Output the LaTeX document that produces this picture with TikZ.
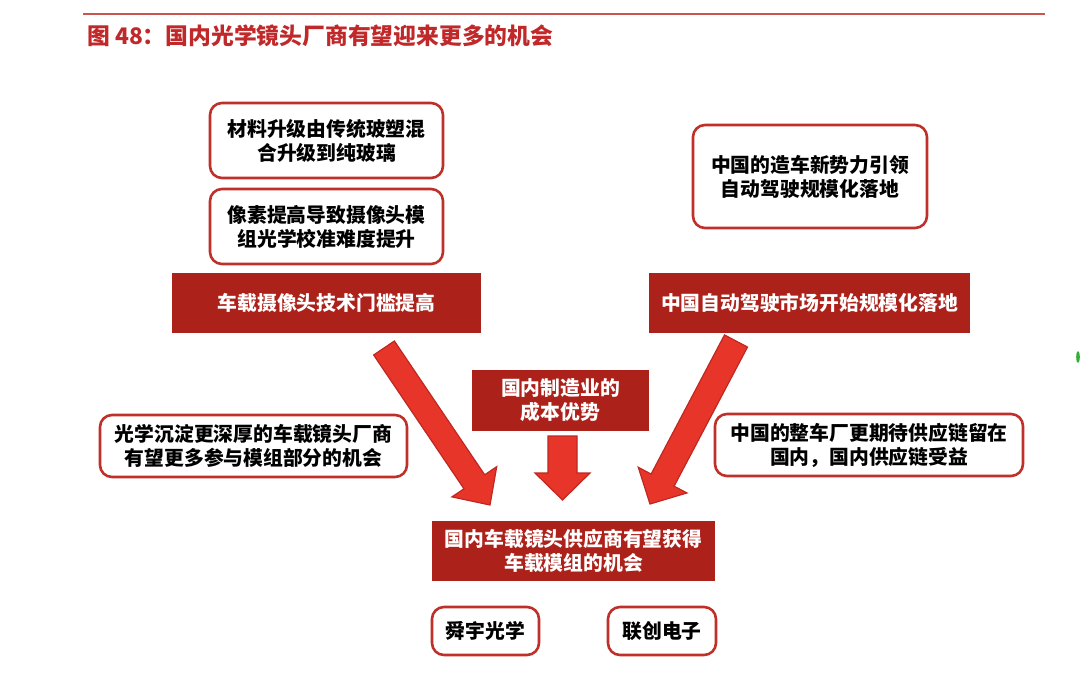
\documentclass[tikz,border=0pt]{standalone}
\usepackage{fontspec}
\newfontfamily\cjk{Noto Sans CJK SC}
\usetikzlibrary{calc}
\definecolor{titlered}{HTML}{C0282A}
\definecolor{linered}{HTML}{C9554E}
\definecolor{boxred}{HTML}{C0302A}
\definecolor{darkred}{HTML}{AD211B}
\definecolor{arrowred}{HTML}{E8352A}
\definecolor{arrowedge}{HTML}{BE2820}
\tikzset{
  txt/.style={font=\cjk\bfseries\fontsize{19.8}{24}\selectfont, align=center, inner sep=0pt},
  roundbox/.style={draw=boxred, line width=2.6pt, rounded corners=12pt, fill=white},
  darkbox/.style={fill=darkred, draw=none},
  blockarrow/.style={fill=arrowred, draw=arrowedge, line width=1.2pt, line join=miter},
}
\newcommand{\blockarr}[5]{% start, tip, shaft half-width, head half-width, head length
  \coordinate (bh) at ($(#2)!#5pt!(#1)$);
  \draw[blockarrow] ($(#1)!#3pt!90:(#2)$) -- ($(bh)!#3pt!-90:(#1)$) -- ($(bh)!#4pt!-90:(#1)$) -- (#2)
     -- ($(bh)!#4pt!90:(#1)$) -- ($(bh)!#3pt!90:(#1)$) -- ($(#1)!#3pt!-90:(#2)$) -- cycle;
}
\begin{document}
\begin{tikzpicture}[x=1pt,y=-1pt]
\useasboundingbox (0,0) rectangle (1080,678);
\fill[white] (0,0) rectangle (1080,678);

% title
\draw[linered, line width=2pt] (83,14) -- (1045,14);
\node[anchor=west, inner sep=0pt, text=titlered, font=\cjk\bfseries\fontsize{22.8}{26}\selectfont] (title) at (87,36) {图 48：国内光学镜头厂商有望迎来更多的机会};

% left column
\draw[roundbox] (210,103) rectangle (443,178);
\node[txt] (b1) at (326.5,140.5) {材料升级由传统玻塑混\\合升级到纯玻璃};
\draw[roundbox] (210,189) rectangle (443,264);
\node[txt] (b2) at (326.5,226.5) {像素提高导致摄像头模\\组光学校准难度提升};
\fill[darkbox] (172,273) rectangle (481,333);
\node[txt, text=white] (d1) at (326.5,303) {车载摄像头技术门槛提高};

% right column
\draw[roundbox] (693,125) rectangle (927,228);
\node[txt] (b3) at (810,176.5) {中国的造车新势力引领\\自动驾驶规模化落地};
\fill[darkbox] (649,273) rectangle (970,333);
\node[txt, text=white] (d2) at (809.5,303) {中国自动驾驶市场开始规模化落地};

% middle
\fill[darkbox] (472,370) rectangle (649,431);
\node[txt, text=white] (d3) at (560.5,400.5) {国内制造业的\\成本优势};

% side boxes
\draw[roundbox] (100,415) rectangle (407,477);
\node[txt] (b4) at (253.5,446) {光学沉淀更深厚的车载镜头厂商\\有望更多参与模组部分的机会};
\draw[roundbox] (715,414) rectangle (1023,476);
\node[txt] (b5) at (869,445) {中国的整车厂更期待供应链留在\\国内，国内供应链受益};

% bottom
\fill[darkbox] (432,521) rectangle (715,581);
\node[txt, text=white] (d4) at (573.5,551) {国内车载镜头供应商有望获得\\车载模组的机会};
\draw[roundbox] (432,607) rectangle (539,655);
\node[txt] (c1) at (485.5,631) {舜宇光学};
\draw[roundbox] (608,607) rectangle (716,655);
\node[txt] (c2) at (662,631) {联创电子};

% arrows
\coordinate (la) at (384,348);
\coordinate (lt) at (490,505);
\coordinate (ma) at (562.5,436);
\coordinate (mt) at (562.5,500);
\coordinate (ra) at (736,341);
\coordinate (rt) at (650,504);
\blockarr{la}{lt}{12.5}{27}{28}
\blockarr{ma}{mt}{14.5}{27.5}{27}
\blockarr{ra}{rt}{13}{27.5}{27}

% small green mark at right edge
\fill[green!60!black!80] (1078,357) ellipse (1.8 and 6);
\end{tikzpicture}
\end{document}
